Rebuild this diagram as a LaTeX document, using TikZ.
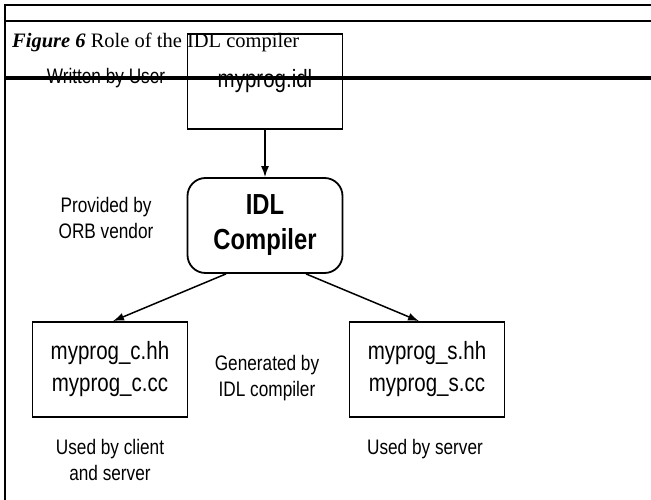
\documentclass[tikz,border=0pt]{standalone}
\usepackage{fontspec}
\setmainfont{Liberation Serif}
\setsansfont{Liberation Sans}[FakeStretch = 0.82]
\usetikzlibrary{arrows.meta}

\begin{document}
\begin{tikzpicture}[x = 1pt, y = -1pt, font = \sffamily]
	\tikzstyle{fileStyle}=[shape = rectangle, draw, line width = 1.8pt, minimum width = 155pt, minimum height = 95pt, inner sep = 0pt, align = center, font = \sffamily\fontsize{25}{32}\selectfont]
	\tikzstyle{compilerStyle}=[shape = rectangle, rounded corners = 18pt, draw, line width = 1.8pt, minimum width = 155pt, minimum height = 95pt, inner sep = 0pt, align = center, font = \sffamily\bfseries\fontsize{29}{35}\selectfont]
	\tikzstyle{noteStyle}=[inner sep = 0pt, align = center, font = \sffamily\fontsize{21}{25.5}\selectfont]
	\tikzstyle{flowStyle}=[line width = 1.5pt, -{Latex[length = 11pt, width = 8pt]}]
	\tikzstyle{ruleStyle}=[line width = 2.2pt]
	\useasboundingbox (0,0) rectangle (651,500);
	% caption
	\node[anchor = base west, inner sep = 0pt, font = \rmfamily\fontsize{20.5}{24}\selectfont] (caption) at (12,48) {\textbf{\textit{Figure 6}} Role of the IDL compiler};
	% files and compiler
	\node[fileStyle] (idl) at (265,81.5) {myprog.idl};
	\node[compilerStyle] (compiler) at (265,225.5) {IDL\\Compiler};
	\node[fileStyle] (client) at (110,369.5) {myprog\_c.hh\\myprog\_c.cc};
	\node[fileStyle] (server) at (427,369.5) {myprog\_s.hh\\myprog\_s.cc};
	% notes
	\node[noteStyle, anchor = base] (writer) at (106,84) {Written by User};
	\node[noteStyle] (vendor) at (106,218) {Provided by\\ORB vendor};
	\node[noteStyle] (generated) at (267,378) {Generated by\\IDL compiler};
	\node[noteStyle] (clientuse) at (110,460) {Used by client\\and server};
	\node[noteStyle, anchor = base] (serveruse) at (425,454) {Used by server};
	% arrows
	\draw[flowStyle] (idl) -- (compiler);
	\draw[flowStyle] ([xshift = -39pt]compiler.south) -- ([xshift = 3pt]client.north);
	\draw[flowStyle] ([xshift = 41pt]compiler.south) -- ([xshift = -8pt]server.north);
	% page rules
	\draw[ruleStyle] (651,5) -- (5,5) -- (5,500);
	\draw[ruleStyle] (5,21) -- (651,21);
	\draw[line width = 4pt] (5,78) -- (651,78);
\end{tikzpicture}
\end{document}
